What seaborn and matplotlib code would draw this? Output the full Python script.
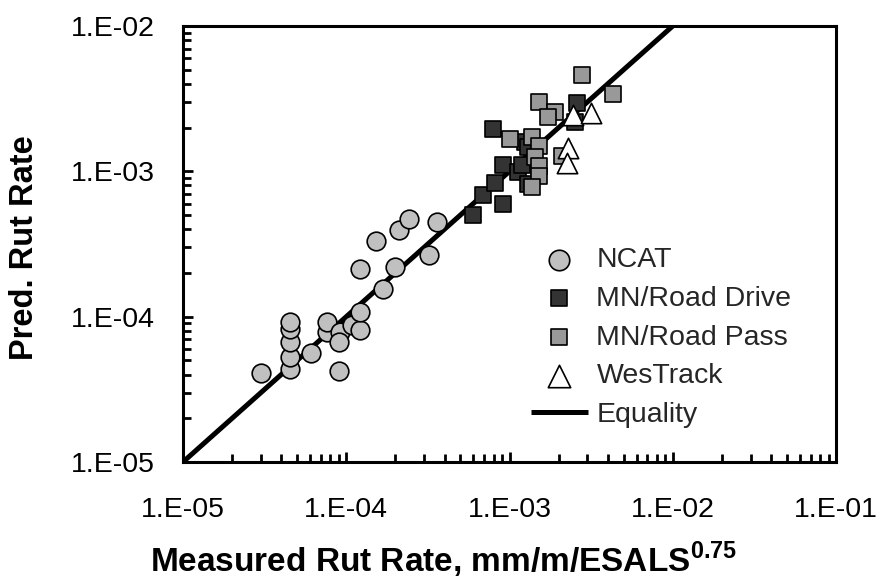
import numpy as np
import pandas as pd
import seaborn as sns
import matplotlib
matplotlib.use("Agg")
import matplotlib.pyplot as plt
from matplotlib.ticker import LogLocator, FuncFormatter, NullFormatter

# ---------------- data ----------------
ncat_measured = [3.0e-5, 4.5e-5, 4.5e-5, 4.5e-5, 4.5e-5, 4.5e-5, 6.1e-5, 7.6e-5, 7.6e-5,
                 9.2e-5, 9.0e-5, 9.0e-5, 1.08e-4, 1.21e-4, 1.21e-4, 1.69e-4, 1.21e-4,
                 1.99e-4, 1.52e-4, 2.11e-4, 2.43e-4, 3.61e-4, 3.23e-4]
ncat_predicted = [4.1e-5, 4.35e-5, 5.3e-5, 6.7e-5, 8.2e-5, 9.25e-5, 5.6e-5, 7.9e-5, 9.25e-5,
                  7.9e-5, 6.7e-5, 4.2e-5, 8.8e-5, 8.1e-5, 1.08e-4, 1.55e-4, 2.12e-4,
                  2.19e-4, 3.3e-4, 3.95e-4, 4.68e-4, 4.51e-4, 2.66e-4]

drive_measured = [6.0e-4, 6.9e-4, 8.15e-4, 9.16e-4, 9.16e-4, 7.96e-4, 1.12e-3, 1.19e-3,
                  1.25e-3, 1.30e-3, 2.58e-3, 2.52e-3, 1.30e-3]
drive_predicted = [5.0e-4, 6.9e-4, 8.3e-4, 6.0e-4, 1.11e-3, 1.95e-3, 9.95e-4, 1.11e-3,
                   1.60e-3, 1.48e-3, 2.97e-3, 2.20e-3, 8.2e-4]

pass_measured = [2.77e-3, 4.33e-3, 1.52e-3, 1.90e-3, 1.73e-3, 1.0e-3, 1.37e-3, 1.52e-3,
                 1.43e-3, 1.52e-3, 1.52e-3, 1.37e-3, 2.09e-3]
pass_predicted = [4.6e-3, 3.41e-3, 3.02e-3, 2.58e-3, 2.38e-3, 1.66e-3, 1.73e-3, 1.50e-3,
                  1.26e-3, 1.08e-3, 9.3e-4, 7.8e-4, 1.28e-3]

wes_measured = [2.46e-3, 3.14e-3, 2.29e-3, 2.24e-3]
wes_predicted = [2.44e-3, 2.51e-3, 1.44e-3, 1.14e-3]

equality = [1e-5, 1e-1]

x_ticks = [1e-5, 1e-4, 1e-3, 1e-2, 1e-1]
y_ticks = [1e-5, 1e-4, 1e-3, 1e-2]

series_names = ["NCAT", "MN/Road Drive", "MN/Road Pass", "WesTrack"]

df = pd.concat([
    pd.DataFrame({"measured": ncat_measured, "predicted": ncat_predicted, "source": series_names[0]}),
    pd.DataFrame({"measured": drive_measured, "predicted": drive_predicted, "source": series_names[1]}),
    pd.DataFrame({"measured": pass_measured, "predicted": pass_predicted, "source": series_names[2]}),
    pd.DataFrame({"measured": wes_measured, "predicted": wes_predicted, "source": series_names[3]}),
], ignore_index=True)

# ---------------- style ----------------
sns.set_theme(style="white")
plt.rcParams["font.family"] = ["Liberation Sans", "DejaVu Sans"]
plt.rcParams["mathtext.fontset"] = "custom"
plt.rcParams["mathtext.rm"] = "Liberation Sans"
plt.rcParams["mathtext.bf"] = "Liberation Sans:bold"

fig = plt.figure(figsize=(8.83, 5.86), dpi=100)
ax = fig.add_axes([183 / 883, 1 - 462 / 586, (836 - 183) / 883, (462 - 26) / 586])

ax.plot(equality, equality, color="black", lw=3.6, zorder=1, label="Equality",
        solid_capstyle="butt")

styles = {
    "NCAT": dict(marker="o", s=180, color="#c0c0c0"),
    "MN/Road Drive": dict(marker="s", s=118, color="#333333"),
    "MN/Road Pass": dict(marker="s", s=118, color="#999999"),
    "WesTrack": dict(marker="^", s=215, color="#ffffff"),
}
for name in series_names:
    st = styles[name]
    sns.scatterplot(data=df[df["source"] == name], x="measured", y="predicted", ax=ax,
                    marker=st["marker"], s=st["s"], color=st["color"],
                    edgecolor="black", linewidth=1.2, zorder=3, label=name)

ax.set_xscale("log")
ax.set_yscale("log")
ax.set_xlim(1e-5, 1e-1)
ax.set_ylim(1e-5, 1e-2)

fmt = FuncFormatter(lambda v, _: f"1.E{int(round(np.log10(v))):03d}")
ax.set_xticks(x_ticks)
ax.set_yticks(y_ticks)
ax.xaxis.set_major_formatter(fmt)
ax.yaxis.set_major_formatter(fmt)
ax.xaxis.set_minor_locator(LogLocator(base=10, subs=np.arange(2, 10), numticks=20))
ax.yaxis.set_minor_locator(LogLocator(base=10, subs=np.arange(2, 10), numticks=20))
ax.xaxis.set_minor_formatter(NullFormatter())
ax.yaxis.set_minor_formatter(NullFormatter())

ax.tick_params(axis="both", which="major", direction="in", length=7.5, width=2,
               labelsize=20.5, color="black", labelcolor="black",
               left=True, bottom=True, right=False, top=False)
ax.tick_params(axis="both", which="minor", direction="in", length=5.5, width=2,
               color="black", left=True, bottom=True, right=False, top=False)
ax.tick_params(axis="y", which="major", pad=20)
ax.tick_params(axis="x", which="major", pad=25)

for sp in ax.spines.values():
    sp.set_visible(True)
    sp.set_color("black")
    sp.set_linewidth(2.2)

ax.set_xlabel("Measured Rut Rate, mm/m/ESALS$^{\\mathbf{0.75}}$", fontsize=24,
              fontweight="bold", color="black")
ax.set_ylabel("Pred. Rut Rate", fontsize=23.5, fontweight="bold", color="black")
ax.xaxis.set_label_coords(443 / 883, 1 - 560 / 586, transform=fig.transFigure)
ax.xaxis.label.set_va("center")
ax.yaxis.set_label_coords(25 / 883, 1 - 248 / 586, transform=fig.transFigure)
ax.yaxis.label.set_va("center")

handles, labels = ax.get_legend_handles_labels()
order = series_names + ["Equality"]
hmap = dict(zip(labels, handles))
ax.legend([hmap[k] for k in order], order, loc="upper left",
          bbox_to_anchor=(531 / 883, 1 - 247 / 586), bbox_transform=fig.transFigure,
          frameon=False, fontsize=20.5, handlelength=2.0, handletextpad=0.3,
          labelspacing=0.45, borderpad=0, borderaxespad=0, markerscale=1.1)

fig.savefig("out.png", dpi=100)
